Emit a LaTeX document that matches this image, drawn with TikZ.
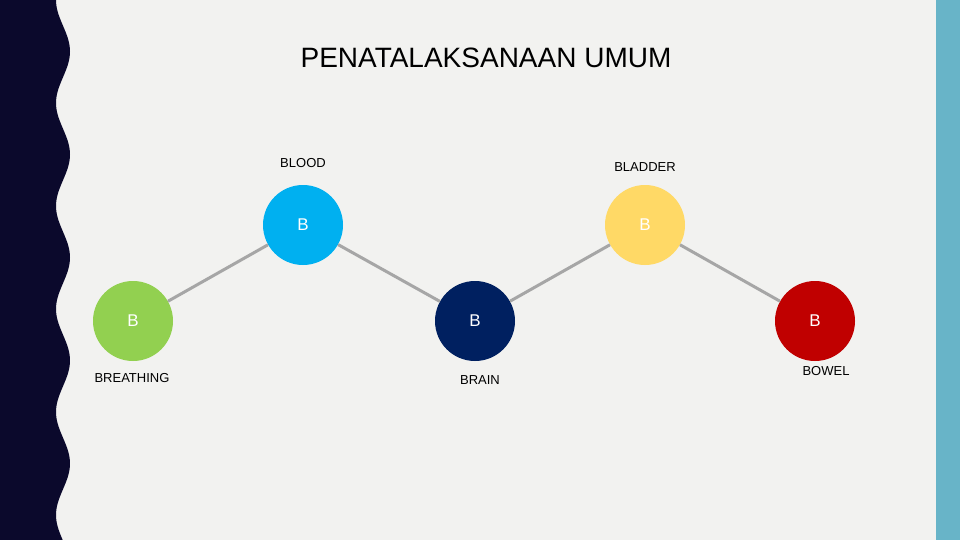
\documentclass[tikz,border=0pt]{standalone}
\usepackage{fontspec}
\setmainfont{Liberation Sans}
\begin{document}
\begin{tikzpicture}[x=1pt,y=-1pt,
  bub/.style={circle,minimum size=80pt,inner sep=0pt,text=white,font=\fontsize{17}{20}\selectfont},
  lab/.style={font=\fontsize{13}{15}\selectfont,text=black},
  link/.style={draw=black!35,line width=3pt}]
\useasboundingbox (0,0) rectangle (960,540);
\fill[fill={rgb,255:red,242;green,242;blue,240}] (0,0) rectangle (960,540);
\fill[fill={rgb,255:red,104;green,180;blue,200}] (936,0) rectangle (960,540);
\fill[fill={rgb,255:red,11;green,9;blue,44}] (0,0) -- plot[domain=0:540,samples=200,smooth] ({63-7*cos(3.4951*\x)},\x) -- (0,540) -- cycle;
\node[font=\fontsize{28}{32}\selectfont] (t) at (486,58) {PENATALAKSANAAN UMUM};
\node[bub,fill={rgb,255:red,146;green,208;blue,80}] (g) at (133,321) {B};
\node[bub,fill={rgb,255:red,0;green,176;blue,240}] (bl) at (303,225) {B};
\node[bub,fill={rgb,255:red,0;green,32;blue,96}] (n) at (475,321) {B};
\node[bub,fill={rgb,255:red,255;green,217;blue,102}] (y) at (645,225) {B};
\node[bub,fill={rgb,255:red,192;green,0;blue,0}] (r) at (815,321) {B};
\draw[link] (g) -- (bl);
\draw[link] (bl) -- (n);
\draw[link] (n) -- (y);
\draw[link] (y) -- (r);
\node[lab] (l1) at (132,378) {BREATHING};
\node[lab] (l2) at (303,163) {BLOOD};
\node[lab] (l3) at (480,380) {BRAIN};
\node[lab] (l4) at (645,167) {BLADDER};
\node[lab] (l5) at (826,371) {BOWEL};
\end{tikzpicture}
\end{document}
